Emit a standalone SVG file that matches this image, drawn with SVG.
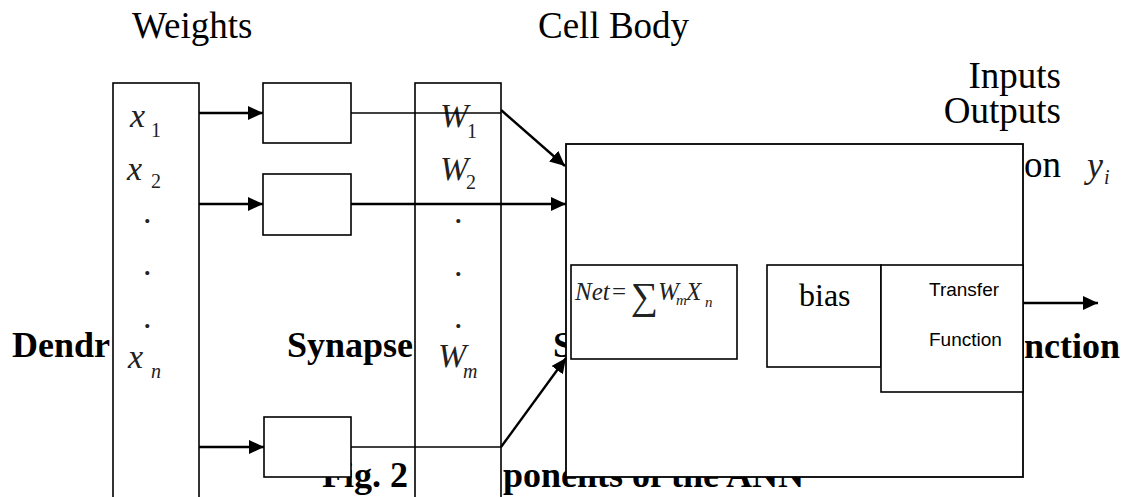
<svg xmlns="http://www.w3.org/2000/svg" width="1126" height="497" viewBox="0 0 1126 497">
<style>
text{font-family:"Liberation Serif","Times New Roman",serif;fill:#000}
.lbl{font-size:37px}
.bold{font-size:36px;font-weight:bold}
.math{font-style:italic;font-size:34px;fill:#222}
.sub{font-style:italic;font-size:20px;fill:#222}
.dot{font-size:34px;fill:#222}
.box{fill:#fff;stroke:#000;stroke-width:1.6}
.thin{stroke:#000;stroke-width:1.4;fill:none}
.thick{stroke:#000;stroke-width:2.4;fill:none}
.sans{font-family:"Liberation Sans",Arial,sans-serif;font-size:19px}
</style>
<defs>
<marker id="ah" viewBox="0 0 15 14" refX="15" refY="7" markerWidth="15" markerHeight="14" markerUnits="userSpaceOnUse" orient="auto">
<path d="M0,0 L15,7 L0,14 z" fill="#000"/>
</marker>
</defs>
<rect width="1126" height="497" fill="#fff"/>
<g id="labels">
<text class="lbl" x="132" y="38">Weights</text>
<text class="lbl" x="538" y="38">Cell Body</text>
<text class="lbl" x="1061" y="88" text-anchor="end">Inputs</text>
<text class="lbl" x="1061" y="123" text-anchor="end">Outputs</text>
<text class="lbl" x="1061" y="177" text-anchor="end">on</text>
<text class="math" x="1087" y="177" style="font-size:36px">y</text>
<text class="sub" x="1104" y="184">i</text>
<text class="bold" x="12" y="357">Dendr</text>
<text class="bold" x="287" y="357">Synapse</text>
<text class="bold" x="553" y="357">S</text>
<text class="bold" x="1024" y="358">nction</text>
<text class="bold" x="322" y="487">Fig. 2</text>
<text class="bold" x="503" y="487">ponents of the ANN</text>
</g>
<g id="inputs">
<rect class="box" x="113" y="83" width="86" height="420"/>
<text class="math" x="130" y="127">x</text><text class="sub" x="151" y="137" style="font-style:normal">1</text>
<text class="math" x="127" y="180">x</text><text class="sub" x="151" y="188" style="font-style:normal">2</text>
<text class="dot" x="143" y="223">.</text>
<text class="dot" x="143" y="275">.</text>
<text class="dot" x="143" y="328">.</text>
<text class="math" x="128" y="368">x</text><text class="sub" x="151" y="378">n</text>
</g>
<g id="synapse1"><rect class="box" x="263" y="83" width="88" height="60"/></g>
<g id="synapse2"><rect class="box" x="263" y="174" width="88" height="61"/></g>
<g id="synapse3"><rect class="box" x="264" y="417" width="87" height="60"/></g>
<g id="weights">
<rect class="box" x="415" y="83" width="86" height="420"/>
<text class="math" x="440" y="127">W</text><text class="sub" x="467" y="138" style="font-style:normal">1</text>
<text class="math" x="440" y="180">W</text><text class="sub" x="466" y="189" style="font-style:normal">2</text>
<text class="dot" x="454" y="223">.</text>
<text class="dot" x="454" y="276">.</text>
<text class="dot" x="454" y="328">.</text>
<text class="math" x="438" y="367">W</text><text class="sub" x="463" y="378">m</text>
</g>
<g id="cellbody"><rect class="box" x="566" y="144" width="457" height="333" style="stroke-width:1.8"/></g>
<g id="net">
<rect class="box" x="571" y="265" width="166" height="94"/>
<text x="575" y="300" style="font-style:italic;font-size:25px;fill:#222">Net</text>
<text x="612" y="300" style="font-size:25px;fill:#222">=</text>
<text x="631" y="309" style="font-size:38px;fill:#222">∑</text>
<text x="658" y="300" style="font-style:italic;font-size:25px;fill:#222">W</text>
<text x="676" y="305" style="font-style:italic;font-size:15px;fill:#222">m</text>
<text x="686" y="300" style="font-style:italic;font-size:25px;fill:#222">X</text>
<text x="705" y="307" style="font-style:italic;font-size:15px;fill:#222">n</text>
</g>
<g id="bias">
<rect class="box" x="767" y="265" width="114" height="102"/>
<text x="799" y="306" style="font-size:32px">bias</text>
</g>
<g id="transfer">
<rect class="box" x="881" y="265" width="142" height="127"/>
<text class="sans" x="929" y="296">Transfer</text>
<text class="sans" x="929" y="346">Function</text>
</g>
<g id="connectors">
<line class="thick" x1="199" y1="113" x2="263" y2="113" marker-end="url(#ah)"/>
<line class="thick" x1="199" y1="204" x2="263" y2="204" marker-end="url(#ah)"/>
<line class="thick" x1="199" y1="447" x2="264" y2="447" marker-end="url(#ah)"/>
<polyline class="thin" points="351,113 501,113"/>
<line class="thick" x1="501" y1="110" x2="565" y2="166" marker-end="url(#ah)"/>
<line class="thick" x1="351" y1="204" x2="566" y2="204" marker-end="url(#ah)"/>
<polyline class="thin" points="351,447 501,447"/>
<line class="thick" x1="501" y1="447" x2="566" y2="358" marker-end="url(#ah)"/>
<line class="thick" x1="1023" y1="303" x2="1098" y2="303" marker-end="url(#ah)"/>
</g>
</svg>
